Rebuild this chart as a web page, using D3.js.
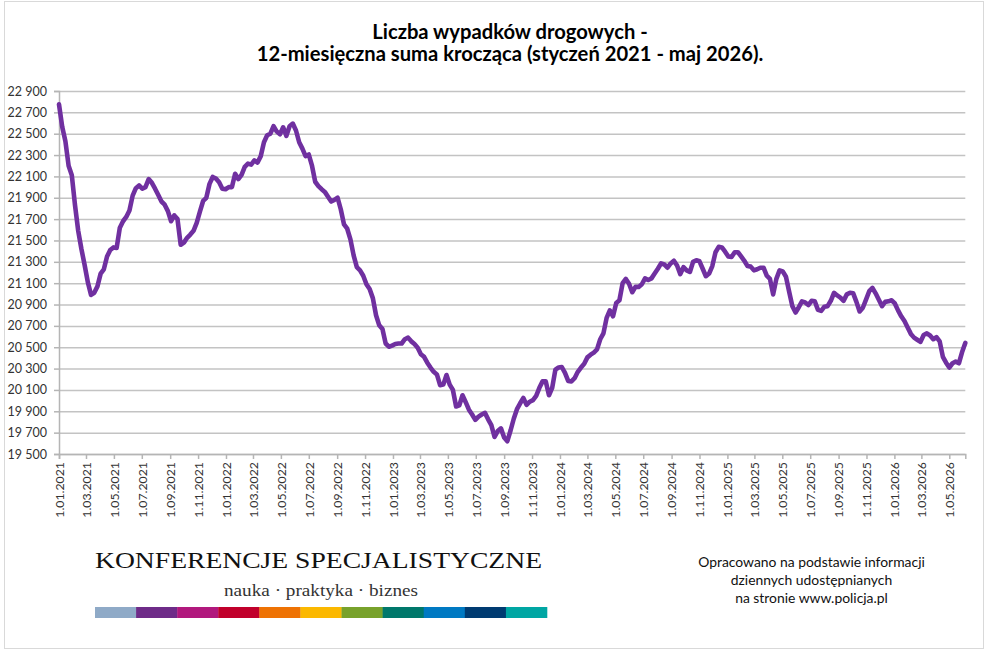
<!DOCTYPE html>
<html>
<head>
<meta charset="utf-8">
<script src="https://cdn.jsdelivr.net/npm/d3@7"></script>
<style>
  body { margin: 0; background: #fff; }
  svg { display: block; }
</style>
</head>
<body>
<script>
// ---------------- DATA ----------------
const titleLines = ["Liczba wypadków drogowych -", "12-miesięczna suma krocząca (styczeń 2021 - maj 2026)."];
const startDate = "2021-01-01";   // first observation
const stepDays = 7;               // one reading per week
const values = [
  22775, 22565, 22430, 22200, 22110, 21830, 21590, 21420, 21270, 21110,
  20990, 21010, 21070, 21190, 21230, 21350, 21410, 21435, 21430, 21620,
  21680, 21720, 21780, 21920, 21990, 22015, 21985, 22000, 22075, 22040,
  21985, 21925, 21865, 21835, 21775, 21680, 21735, 21700, 21460, 21480,
  21525, 21555, 21590, 21665, 21770, 21870, 21900, 22030, 22095, 22080,
  22045, 21985, 21980, 22000, 22000, 22125, 22075, 22115, 22190, 22220,
  22210, 22250, 22230, 22290, 22420, 22485, 22500, 22570, 22520, 22495,
  22560, 22480, 22570, 22595, 22530, 22420, 22360, 22290, 22305, 22200,
  22050, 22010, 21980, 21955, 21910, 21865, 21880, 21900, 21790, 21650,
  21610, 21510, 21360, 21250, 21220, 21170, 21090, 21045, 20960, 20800,
  20705, 20670, 20535, 20505, 20515, 20530, 20535, 20535, 20575, 20590,
  20555, 20530, 20495, 20435, 20410, 20355, 20310, 20270, 20245, 20145,
  20150, 20240, 20150, 20100, 19945, 19955, 20050, 19985, 19915, 19870,
  19820, 19850, 19870, 19885, 19825, 19770, 19660, 19715, 19740, 19655,
  19620, 19720, 19830, 19920, 19975, 20025, 19960, 19990, 20005, 20045,
  20120, 20180, 20180, 20050, 20120, 20290, 20310, 20315, 20260, 20185,
  20180, 20210, 20270, 20310, 20345, 20405, 20430, 20450, 20480, 20575,
  20630, 20775, 20845, 20790, 20915, 20940, 21100, 21140, 21095, 21015,
  21065, 21065, 21090, 21145, 21130, 21145, 21190, 21235, 21285, 21275,
  21245, 21285, 21310, 21265, 21185, 21250, 21220, 21205, 21300, 21315,
  21305, 21235, 21165, 21190, 21260, 21390, 21440, 21435, 21395, 21350,
  21345, 21390, 21390, 21350, 21310, 21260, 21255, 21220, 21230, 21245,
  21245, 21170, 21140, 20995, 21140, 21220, 21210, 21160, 21020, 20885,
  20825, 20875, 20930, 20920, 20895, 20935, 20930, 20850, 20840, 20880,
  20885, 20935, 21010, 20985, 20965, 20935, 20995, 21010, 21005, 20925,
  20835, 20870, 20945, 21025, 21055, 21005, 20945, 20885, 20925, 20930,
  20940, 20910, 20845, 20790, 20745, 20685, 20625, 20590, 20570, 20550,
  20615, 20630, 20610, 20575, 20595, 20555, 20410, 20355, 20310, 20350,
  20365, 20350, 20455, 20540
];
const yTicks = [19500, 19700, 19900, 20100, 20300, 20500, 20700, 20900, 21100,
                21300, 21500, 21700, 21900, 22100, 22300, 22500, 22700, 22900];
const xTicks = [
  "2021-01-01","2021-03-01","2021-05-01","2021-07-01","2021-09-01","2021-11-01",
  "2022-01-01","2022-03-01","2022-05-01","2022-07-01","2022-09-01","2022-11-01",
  "2023-01-01","2023-03-01","2023-05-01","2023-07-01","2023-09-01","2023-11-01",
  "2024-01-01","2024-03-01","2024-05-01","2024-07-01","2024-09-01","2024-11-01",
  "2025-01-01","2025-03-01","2025-05-01","2025-07-01","2025-09-01","2025-11-01",
  "2026-01-01","2026-03-01","2026-05-01"
];
const logoTitle = "KONFERENCJE SPECJALISTYCZNE";
const logoSubtitle = "nauka · praktyka · biznes";
const logoColors = ["#8faac7","#6e2b88","#b1187d","#c1002b","#ee7203","#fbb800","#78a22b","#00786b","#0079c2","#003b71","#00a6a3"];
const sourceLines = ["Opracowano na podstawie informacji", "dziennych udostępnianych", "na stronie www.policja.pl"];

// ---------------- CHART ----------------
const W = 990, H = 651;
const svg = d3.select("body").append("svg").attr("width", W).attr("height", H);

svg.append("rect").attr("x", 0).attr("y", 0).attr("width", W).attr("height", H).attr("fill", "#fff");
svg.append("rect").attr("x", 4.5).attr("y", 1.5).attr("width", 979).attr("height", 647)
   .attr("fill", "none").attr("stroke", "#d9d9d9").attr("stroke-width", 1);

const parse = d3.utcParse("%Y-%m-%d");
const t0 = parse(startDate);
const data = values.map((v, i) => ({ date: d3.utcDay.offset(t0, i * stepDays), value: v }));

const plot = { left: 59, right: 965.3, top: 91, bottom: 454 };
const x = d3.scaleUtc().domain(d3.extent(data, d => d.date)).range([plot.left, plot.right]);
const y = d3.scaleLinear().domain([19500, 22900]).range([plot.bottom, plot.top]);

const fmtNum = n => d3.format(",")(n).replace(/,/g, " ");
const fmtDate = d3.utcFormat("%-d.%m.%Y");

// title
svg.append("g").selectAll("text").data(titleLines).join("text")
  .attr("x", 510).attr("y", (d, i) => 38.5 + i * 22.5)
  .attr("text-anchor", "middle")
  .attr("font-family", "Lato, 'Open Sans', sans-serif")
  .attr("font-weight", "bold").attr("font-size", 20.2).attr("fill", "#000")
  .text(d => d);

// gridlines
svg.append("g")
  .attr("transform", `translate(${plot.left},0)`)
  .call(d3.axisLeft(y).tickValues(yTicks).tickSize(-(plot.right - plot.left)).tickFormat(""))
  .call(g => g.select(".domain").remove())
  .call(g => g.selectAll("line").attr("stroke", "#c3c3c3").attr("stroke-width", 1.5));

// y axis
svg.append("g")
  .attr("transform", `translate(${plot.left},0)`)
  .call(d3.axisLeft(y).tickValues(yTicks).tickSize(5).tickPadding(7).tickFormat(fmtNum))
  .call(g => g.select(".domain").attr("stroke", "#b5b5b5").attr("stroke-width", 1.5))
  .call(g => g.selectAll("line").attr("stroke", "#b5b5b5").attr("stroke-width", 1.5))
  .call(g => g.selectAll("text").attr("font-family", "Lato, sans-serif").attr("font-size", 12.5).attr("fill", "#333"));

// x axis
svg.append("g")
  .attr("transform", `translate(0,${plot.bottom})`)
  .call(d3.axisBottom(x).tickValues(xTicks.map(parse)).tickSize(5).tickFormat(fmtDate))
  .call(g => g.select(".domain").attr("stroke", "#b5b5b5").attr("stroke-width", 1.5))
  .call(g => g.selectAll("line").attr("stroke", "#b5b5b5").attr("stroke-width", 1.5))
  .call(g => g.selectAll("text")
     .attr("font-family", "Lato, sans-serif").attr("font-size", 12.3).attr("fill", "#333")
     .attr("text-anchor", "end").attr("transform", "rotate(-90)")
     .attr("x", -8).attr("y", 0).attr("dy", "0.35em"));

// line
svg.append("path").datum(data)
  .attr("fill", "none").attr("stroke", "#7030a0").attr("stroke-width", 4.6)
  .attr("stroke-linejoin", "round").attr("stroke-linecap", "round")
  .attr("d", d3.line().x(d => x(d.date)).y(d => y(d.value)));

// logo
svg.append("text").attr("x", 95).attr("y", 568)
  .attr("font-family", "'Liberation Serif', 'DejaVu Serif', serif").attr("font-size", 23)
  .attr("fill", "#111").attr("textLength", 447).attr("lengthAdjust", "spacingAndGlyphs")
  .text(logoTitle);
svg.append("text").attr("x", 224).attr("y", 595.5)
  .attr("font-family", "'Liberation Serif', 'DejaVu Serif', serif").attr("font-size", 16.5)
  .attr("fill", "#333").attr("textLength", 194).attr("lengthAdjust", "spacingAndGlyphs")
  .text(logoSubtitle);
const band = d3.scaleBand().domain(d3.range(logoColors.length)).range([95, 547]);
svg.append("g").selectAll("rect").data(logoColors).join("rect")
  .attr("x", (d, i) => band(i)).attr("y", 607).attr("width", band.bandwidth() + 0.3).attr("height", 11)
  .attr("fill", d => d);

// source note
svg.append("g").selectAll("text").data(sourceLines).join("text")
  .attr("x", 811.5).attr("y", (d, i) => 567 + i * 18)
  .attr("text-anchor", "middle")
  .attr("font-family", "Lato, sans-serif").attr("font-size", 13.9).attr("fill", "#111")
  .text(d => d);
</script>
</body>
</html>
